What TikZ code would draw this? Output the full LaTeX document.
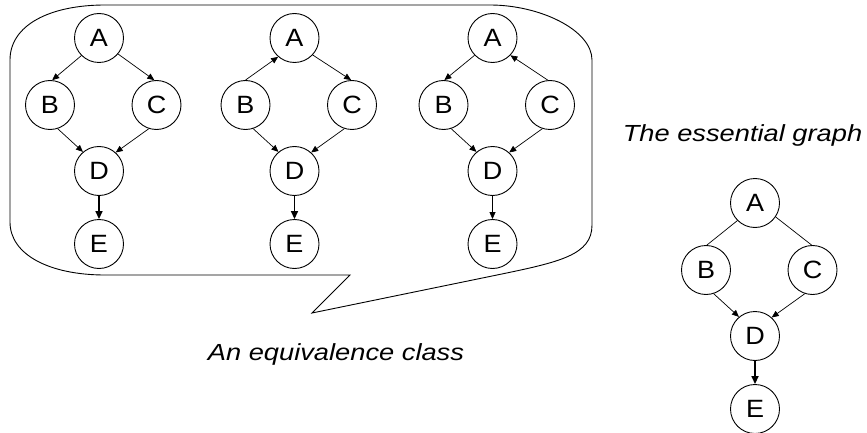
\documentclass[tikz,border=0pt]{standalone}
\usepackage{fontspec}
\setmainfont{Liberation Sans}
\usepackage{graphicx}
\usetikzlibrary{arrows.meta}
\newcommand\sxl[1]{\scalebox{1.08}[1]{#1}}
\newcommand\sxt[1]{\scalebox{1.17}[1]{#1}}
\begin{document}
\begin{tikzpicture}[x=1pt,y=-1pt,
  vnode/.style={draw,circle,line width=0.9pt,minimum size=49pt,inner sep=0pt,font=\fontsize{25}{25}\selectfont},
  edge/.style={line width=0.7pt,-{Triangle[length=7pt,width=6pt]}},
  thickedge/.style={line width=1.6pt,-{Triangle[length=8pt,width=7pt]}},
  undir/.style={line width=0.7pt},
  caption/.style={font=\fontsize{23.3}{24}\selectfont\itshape,anchor=base,inner sep=0pt},
  bubble/.style={line width=0.9pt,line join=miter}]
\useasboundingbox (0,0) rectangle (867,433);
% speech bubble
\draw[bubble] (105,5) -- (490,5) .. controls (540,5) and (592,30) .. (592,60)
  -- (592,225) .. controls (592,255) and (560,262) .. (497,275)
  -- (312,313) -- (350,275) -- (105,275)
  .. controls (50,275) and (10,255) .. (10,222)
  -- (10,60) .. controls (10,25) and (50,5) .. (105,5) -- cycle;
% nodes
\foreach \g/\x/\y in {g1/99/38, g2/294.5/38, g3/492.5/38, g4/755/203} {
  \node[vnode] (\g A) at (\x,\y) {\sxl{A}};
  \node[vnode] (\g B) at (\x-49,\y+67) {\sxl{B}};
  \node[vnode] (\g C) at (\x+57.5,\y+67) {\sxl{C}};
  \node[vnode] (\g D) at (\x,\y+133) {\sxl{D}};
  \node[vnode] (\g E) at (\x,\y+206) {\sxl{E}};
}
% graph 1
\draw[edge] (g1A.225) -- (g1B.85);
\draw[edge] (g1A.-40) -- (g1C.95);
\draw[edge] (g1B.-72) -- (g1D.130);
\draw[edge] (g1C.252) -- (g1D.48);
\draw[thickedge] (g1D.south) -- (g1E.north);
% graph 2
\draw[edge] (g2B.90) -- (g2A.229);
\draw[edge] (g2A.-43) -- (g2C.92);
\draw[edge] (g2B.-72) -- (g2D.130);
\draw[edge] (g2C.252) -- (g2D.48);
\draw[thickedge] (g2D.south) -- (g2E.north);
% graph 3
\draw[edge] (g3A.224) -- (g3B.88);
\draw[edge] (g3C.95) -- (g3A.-44);
\draw[edge] (g3B.-72) -- (g3D.130);
\draw[edge] (g3C.252) -- (g3D.48);
\draw[edge] (g3D.south) -- (g3E.north);
% essential graph
\draw[undir] (g4A.225) -- (g4B.88);
\draw[undir] (g4A.-34) -- (g4C.92);
\draw[edge] (g4B.-72) -- (g4D.130);
\draw[edge] (g4C.252) -- (g4D.48);
\draw[thickedge] (g4D.south) -- (g4E.north);
% captions
\node[caption] (cap1) at (742.5,142) {\sxt{The essential graph}};
\node[caption] (cap2) at (336,360) {\sxt{An equivalence class}};
\end{tikzpicture}
\end{document}
